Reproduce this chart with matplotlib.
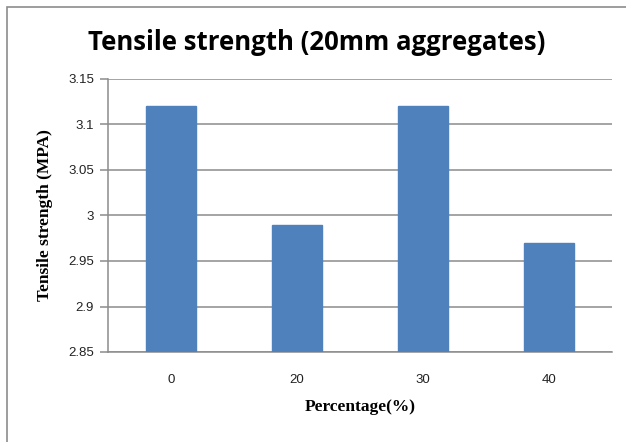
import matplotlib
matplotlib.use("Agg")
import matplotlib.pyplot as plt
from matplotlib.patches import Rectangle

categories = ["0", "20", "30", "40"]
strength = [3.12, 2.99, 3.12, 2.97]
yticks = [2.85, 2.9, 2.95, 3.0, 3.05, 3.1, 3.15]
ytick_labels = ["2.85", "2.9", "2.95", "3", "3.05", "3.1", "3.15"]

W, H = 626, 442
fig = plt.figure(figsize=(W / 100, H / 100), dpi=100)
fig.patch.set_facecolor("white")

# chart-area frame (runs off the right and bottom edges)
fig.patches.append(Rectangle((7 / W, -0.05), 1.2, 1 - 7 / H + 0.05,
                             transform=fig.transFigure, fill=False,
                             edgecolor="#8c8c8c", linewidth=1.2))

ax = fig.add_axes([108 / W, 1 - 352 / H, (612 - 108) / W, (352 - 79) / H])
x = range(len(categories))
ax.bar(x, [v - yticks[0] for v in strength], bottom=yticks[0], width=0.4,
       color="#4f81bd", edgecolor="#4f81bd", zorder=3)
ax.set_xlim(-0.5, len(categories) - 0.5)
ax.set_ylim(yticks[0], yticks[-1])
ax.set_yticks(yticks)
ax.set_yticklabels(ytick_labels, fontsize=9.5, family="Liberation Sans", color="#222222")
ax.set_xticks(list(x))
ax.set_xticklabels(categories, fontsize=9.5, family="Liberation Sans", color="#222222")
ax.yaxis.grid(True, color="#8c8c8c", linewidth=1.1, zorder=0)
for s in ["top", "right"]:
    ax.spines[s].set_visible(False)
for s in ["left", "bottom"]:
    ax.spines[s].set_color("#8c8c8c")
    ax.spines[s].set_linewidth(1.1)
ax.tick_params(axis="y", length=6, color="#8c8c8c", width=1.1, pad=4)
ax.tick_params(axis="x", length=0, pad=16)

ax.set_xlabel("Percentage(%)", fontsize=12.5, family="Liberation Serif",
              fontweight="bold", labelpad=9)
ax.set_ylabel("Tensile strength (MPA)", fontsize=12.5, family="Liberation Serif",
              fontweight="bold", labelpad=11)

fig.text(0.5 * (88 + 545) / W, 1 - 42 / H, "Tensile strength (20mm aggregates)",
         ha="center", va="center", fontsize=18.5, fontweight="bold",
         family="Open Sans")

fig.savefig("out.png", dpi=100)
